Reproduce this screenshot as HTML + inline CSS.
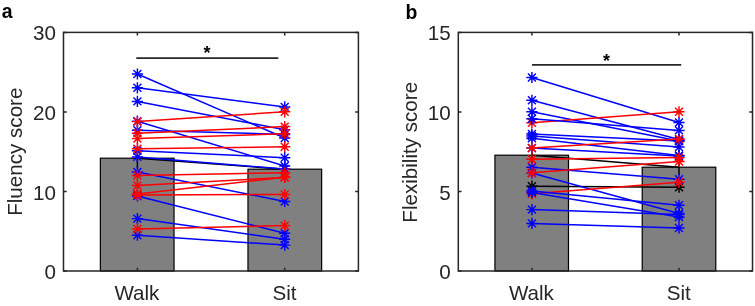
<!DOCTYPE html>
<html><head><meta charset="utf-8"><style>
html,body{margin:0;padding:0;background:#fff;}
body{width:755px;height:306px;overflow:hidden;}
svg{display:block;will-change:transform;}
.t{font-family:"Liberation Sans",sans-serif;font-size:20.6px;fill:#262626;}
.pl{font-family:"Liberation Sans",sans-serif;font-size:19.4px;font-weight:bold;fill:#000;}
.st{font-family:"Liberation Sans",sans-serif;font-size:18px;font-weight:bold;fill:#000;}
</style></head><body>
<svg width="755" height="306" viewBox="0 0 755 306">
<rect width="755" height="306" fill="#fff"/>
<rect x="100.38" y="158.20" width="73.65" height="112.80" fill="#808080" stroke="#000" stroke-width="1.2"/>
<rect x="247.98" y="169.20" width="73.65" height="101.80" fill="#808080" stroke="#000" stroke-width="1.2"/>
<path d="M137.40 147.97V168.43" stroke="#000" stroke-width="1.5"/>
<path d="M284.70 159.68V178.72" stroke="#000" stroke-width="1.5"/>
<path d="M137.40 158.20L284.70 169.20" stroke="#000" stroke-width="1.5"/>
<path d="M137.40 74.00L284.70 138.00" stroke="#0000ff" stroke-width="1.5"/>
<path d="M131.80 74.00H143.00M137.40 68.40V79.60M133.44 70.04L141.36 77.96M133.44 77.96L141.36 70.04" stroke="#0000ff" stroke-width="1.45" fill="none"/>
<path d="M279.10 138.00H290.30M284.70 132.40V143.60M280.74 134.04L288.66 141.96M280.74 141.96L288.66 134.04" stroke="#0000ff" stroke-width="1.45" fill="none"/>
<path d="M137.40 87.80L284.70 106.90" stroke="#0000ff" stroke-width="1.5"/>
<path d="M131.80 87.80H143.00M137.40 82.20V93.40M133.44 83.84L141.36 91.76M133.44 91.76L141.36 83.84" stroke="#0000ff" stroke-width="1.45" fill="none"/>
<path d="M279.10 106.90H290.30M284.70 101.30V112.50M280.74 102.94L288.66 110.86M280.74 110.86L288.66 102.94" stroke="#0000ff" stroke-width="1.45" fill="none"/>
<path d="M137.40 101.40L284.70 129.70" stroke="#0000ff" stroke-width="1.5"/>
<path d="M131.80 101.40H143.00M137.40 95.80V107.00M133.44 97.44L141.36 105.36M133.44 105.36L141.36 97.44" stroke="#0000ff" stroke-width="1.45" fill="none"/>
<path d="M279.10 129.70H290.30M284.70 124.10V135.30M280.74 125.74L288.66 133.66M280.74 133.66L288.66 125.74" stroke="#0000ff" stroke-width="1.45" fill="none"/>
<path d="M137.40 121.20L284.70 166.00" stroke="#0000ff" stroke-width="1.5"/>
<path d="M131.80 121.20H143.00M137.40 115.60V126.80M133.44 117.24L141.36 125.16M133.44 125.16L141.36 117.24" stroke="#0000ff" stroke-width="1.45" fill="none"/>
<path d="M279.10 166.00H290.30M284.70 160.40V171.60M280.74 162.04L288.66 169.96M280.74 169.96L288.66 162.04" stroke="#0000ff" stroke-width="1.45" fill="none"/>
<path d="M137.40 130.30L284.70 134.40" stroke="#0000ff" stroke-width="1.5"/>
<path d="M131.80 130.30H143.00M137.40 124.70V135.90M133.44 126.34L141.36 134.26M133.44 134.26L141.36 126.34" stroke="#0000ff" stroke-width="1.45" fill="none"/>
<path d="M279.10 134.40H290.30M284.70 128.80V140.00M280.74 130.44L288.66 138.36M280.74 138.36L288.66 130.44" stroke="#0000ff" stroke-width="1.45" fill="none"/>
<path d="M137.40 150.80L284.70 157.70" stroke="#0000ff" stroke-width="1.5"/>
<path d="M131.80 150.80H143.00M137.40 145.20V156.40M133.44 146.84L141.36 154.76M133.44 154.76L141.36 146.84" stroke="#0000ff" stroke-width="1.45" fill="none"/>
<path d="M279.10 157.70H290.30M284.70 152.10V163.30M280.74 153.74L288.66 161.66M280.74 161.66L288.66 153.74" stroke="#0000ff" stroke-width="1.45" fill="none"/>
<path d="M137.40 156.90L284.70 169.00" stroke="#0000ff" stroke-width="1.5"/>
<path d="M131.80 156.90H143.00M137.40 151.30V162.50M133.44 152.94L141.36 160.86M133.44 160.86L141.36 152.94" stroke="#0000ff" stroke-width="1.45" fill="none"/>
<path d="M279.10 169.00H290.30M284.70 163.40V174.60M280.74 165.04L288.66 172.96M280.74 172.96L288.66 165.04" stroke="#0000ff" stroke-width="1.45" fill="none"/>
<path d="M137.40 172.00L284.70 201.50" stroke="#0000ff" stroke-width="1.5"/>
<path d="M131.80 172.00H143.00M137.40 166.40V177.60M133.44 168.04L141.36 175.96M133.44 175.96L141.36 168.04" stroke="#0000ff" stroke-width="1.45" fill="none"/>
<path d="M279.10 201.50H290.30M284.70 195.90V207.10M280.74 197.54L288.66 205.46M280.74 205.46L288.66 197.54" stroke="#0000ff" stroke-width="1.45" fill="none"/>
<path d="M137.40 196.00L284.70 233.30" stroke="#0000ff" stroke-width="1.5"/>
<path d="M131.80 196.00H143.00M137.40 190.40V201.60M133.44 192.04L141.36 199.96M133.44 199.96L141.36 192.04" stroke="#0000ff" stroke-width="1.45" fill="none"/>
<path d="M279.10 233.30H290.30M284.70 227.70V238.90M280.74 229.34L288.66 237.26M280.74 237.26L288.66 229.34" stroke="#0000ff" stroke-width="1.45" fill="none"/>
<path d="M137.40 218.60L284.70 239.20" stroke="#0000ff" stroke-width="1.5"/>
<path d="M131.80 218.60H143.00M137.40 213.00V224.20M133.44 214.64L141.36 222.56M133.44 222.56L141.36 214.64" stroke="#0000ff" stroke-width="1.45" fill="none"/>
<path d="M279.10 239.20H290.30M284.70 233.60V244.80M280.74 235.24L288.66 243.16M280.74 243.16L288.66 235.24" stroke="#0000ff" stroke-width="1.45" fill="none"/>
<path d="M137.40 235.20L284.70 245.10" stroke="#0000ff" stroke-width="1.5"/>
<path d="M131.80 235.20H143.00M137.40 229.60V240.80M133.44 231.24L141.36 239.16M133.44 239.16L141.36 231.24" stroke="#0000ff" stroke-width="1.45" fill="none"/>
<path d="M279.10 245.10H290.30M284.70 239.50V250.70M280.74 241.14L288.66 249.06M280.74 249.06L288.66 241.14" stroke="#0000ff" stroke-width="1.45" fill="none"/>
<path d="M137.40 121.60L284.70 111.80" stroke="#ff0000" stroke-width="1.5"/>
<path d="M131.80 121.60H143.00M137.40 116.00V127.20M133.44 117.64L141.36 125.56M133.44 125.56L141.36 117.64" stroke="#ff0000" stroke-width="1.45" fill="none"/>
<path d="M279.10 111.80H290.30M284.70 106.20V117.40M280.74 107.84L288.66 115.76M280.74 115.76L288.66 107.84" stroke="#ff0000" stroke-width="1.45" fill="none"/>
<path d="M137.40 133.30L284.70 126.60" stroke="#ff0000" stroke-width="1.5"/>
<path d="M131.80 133.30H143.00M137.40 127.70V138.90M133.44 129.34L141.36 137.26M133.44 137.26L141.36 129.34" stroke="#ff0000" stroke-width="1.45" fill="none"/>
<path d="M279.10 126.60H290.30M284.70 121.00V132.20M280.74 122.64L288.66 130.56M280.74 130.56L288.66 122.64" stroke="#ff0000" stroke-width="1.45" fill="none"/>
<path d="M137.40 138.60L284.70 133.70" stroke="#ff0000" stroke-width="1.5"/>
<path d="M131.80 138.60H143.00M137.40 133.00V144.20M133.44 134.64L141.36 142.56M133.44 142.56L141.36 134.64" stroke="#ff0000" stroke-width="1.45" fill="none"/>
<path d="M279.10 133.70H290.30M284.70 128.10V139.30M280.74 129.74L288.66 137.66M280.74 137.66L288.66 129.74" stroke="#ff0000" stroke-width="1.45" fill="none"/>
<path d="M137.40 148.80L284.70 146.80" stroke="#ff0000" stroke-width="1.5"/>
<path d="M131.80 148.80H143.00M137.40 143.20V154.40M133.44 144.84L141.36 152.76M133.44 152.76L141.36 144.84" stroke="#ff0000" stroke-width="1.45" fill="none"/>
<path d="M279.10 146.80H290.30M284.70 141.20V152.40M280.74 142.84L288.66 150.76M280.74 150.76L288.66 142.84" stroke="#ff0000" stroke-width="1.45" fill="none"/>
<path d="M137.40 175.50L284.70 172.80" stroke="#ff0000" stroke-width="1.5"/>
<path d="M131.80 175.50H143.00M137.40 169.90V181.10M133.44 171.54L141.36 179.46M133.44 179.46L141.36 171.54" stroke="#ff0000" stroke-width="1.45" fill="none"/>
<path d="M279.10 172.80H290.30M284.70 167.20V178.40M280.74 168.84L288.66 176.76M280.74 176.76L288.66 168.84" stroke="#ff0000" stroke-width="1.45" fill="none"/>
<path d="M137.40 185.50L284.70 177.40" stroke="#ff0000" stroke-width="1.5"/>
<path d="M131.80 185.50H143.00M137.40 179.90V191.10M133.44 181.54L141.36 189.46M133.44 189.46L141.36 181.54" stroke="#ff0000" stroke-width="1.45" fill="none"/>
<path d="M279.10 177.40H290.30M284.70 171.80V183.00M280.74 173.44L288.66 181.36M280.74 181.36L288.66 173.44" stroke="#ff0000" stroke-width="1.45" fill="none"/>
<path d="M137.40 194.00L284.70 177.20" stroke="#ff0000" stroke-width="1.5"/>
<path d="M131.80 194.00H143.00M137.40 188.40V199.60M133.44 190.04L141.36 197.96M133.44 197.96L141.36 190.04" stroke="#ff0000" stroke-width="1.45" fill="none"/>
<path d="M279.10 177.20H290.30M284.70 171.60V182.80M280.74 173.24L288.66 181.16M280.74 181.16L288.66 173.24" stroke="#ff0000" stroke-width="1.45" fill="none"/>
<path d="M137.40 195.00L284.70 194.50" stroke="#ff0000" stroke-width="1.5"/>
<path d="M131.80 195.00H143.00M137.40 189.40V200.60M133.44 191.04L141.36 198.96M133.44 198.96L141.36 191.04" stroke="#ff0000" stroke-width="1.45" fill="none"/>
<path d="M279.10 194.50H290.30M284.70 188.90V200.10M280.74 190.54L288.66 198.46M280.74 198.46L288.66 190.54" stroke="#ff0000" stroke-width="1.45" fill="none"/>
<path d="M137.40 228.90L284.70 225.60" stroke="#ff0000" stroke-width="1.5"/>
<path d="M131.80 228.90H143.00M137.40 223.30V234.50M133.44 224.94L141.36 232.86M133.44 232.86L141.36 224.94" stroke="#ff0000" stroke-width="1.45" fill="none"/>
<path d="M279.10 225.60H290.30M284.70 220.00V231.20M280.74 221.64L288.66 229.56M280.74 229.56L288.66 221.64" stroke="#ff0000" stroke-width="1.45" fill="none"/>
<rect x="63.5" y="32.4" width="294.90" height="238.60" fill="none" stroke="#262626" stroke-width="1.5"/>
<path d="M63.5 271.00h3.2M358.4 271.00h-3.2M63.5 191.47h3.2M358.4 191.47h-3.2M63.5 111.93h3.2M358.4 111.93h-3.2M63.5 32.40h3.2M358.4 32.40h-3.2M137.40 271.0v-3.2M137.40 32.4v3.2M284.70 271.0v-3.2M284.70 32.4v3.2" stroke="#262626" stroke-width="1.5"/>
<text x="55.90" y="279.20" text-anchor="end" class="t">0</text>
<text x="55.90" y="199.60" text-anchor="end" class="t">10</text>
<text x="55.90" y="119.60" text-anchor="end" class="t">20</text>
<text x="55.90" y="39.60" text-anchor="end" class="t">30</text>
<text x="136.90" y="300.2" text-anchor="middle" class="t">Walk</text>
<text x="284.50" y="300.2" text-anchor="middle" class="t">Sit</text>
<text transform="translate(22.30 151.70) rotate(-90)" text-anchor="middle" class="t">Fluency score</text>
<path d="M136.3 58.1H278.3" stroke="#262626" stroke-width="1.6"/>
<text x="206.9" y="59.30" text-anchor="middle" class="st">*</text>
<text x="1.8" y="18.4" class="pl">a</text>
<rect x="494.93" y="155.20" width="73.55" height="115.80" fill="#808080" stroke="#000" stroke-width="1.2"/>
<rect x="642.23" y="167.20" width="73.55" height="103.80" fill="#808080" stroke="#000" stroke-width="1.2"/>
<path d="M531.90 146.61V163.79" stroke="#000" stroke-width="1.5"/>
<path d="M679.00 159.43V174.97" stroke="#000" stroke-width="1.5"/>
<path d="M531.90 155.20L679.00 167.20" stroke="#000" stroke-width="1.5"/>
<path d="M531.90 186.20L679.00 187.20" stroke="#000000" stroke-width="1.5"/>
<path d="M526.30 186.20H537.50M531.90 180.60V191.80M527.94 182.24L535.86 190.16M527.94 190.16L535.86 182.24" stroke="#000000" stroke-width="1.45" fill="none"/>
<path d="M673.40 187.20H684.60M679.00 181.60V192.80M675.04 183.24L682.96 191.16M675.04 191.16L682.96 183.24" stroke="#000000" stroke-width="1.45" fill="none"/>
<path d="M531.90 77.50L679.00 122.50" stroke="#0000ff" stroke-width="1.5"/>
<path d="M526.30 77.50H537.50M531.90 71.90V83.10M527.94 73.54L535.86 81.46M527.94 81.46L535.86 73.54" stroke="#0000ff" stroke-width="1.45" fill="none"/>
<path d="M673.40 122.50H684.60M679.00 116.90V128.10M675.04 118.54L682.96 126.46M675.04 126.46L682.96 118.54" stroke="#0000ff" stroke-width="1.45" fill="none"/>
<path d="M531.90 100.30L679.00 139.50" stroke="#0000ff" stroke-width="1.5"/>
<path d="M526.30 100.30H537.50M531.90 94.70V105.90M527.94 96.34L535.86 104.26M527.94 104.26L535.86 96.34" stroke="#0000ff" stroke-width="1.45" fill="none"/>
<path d="M673.40 139.50H684.60M679.00 133.90V145.10M675.04 135.54L682.96 143.46M675.04 143.46L682.96 135.54" stroke="#0000ff" stroke-width="1.45" fill="none"/>
<path d="M531.90 111.80L679.00 141.00" stroke="#0000ff" stroke-width="1.5"/>
<path d="M526.30 111.80H537.50M531.90 106.20V117.40M527.94 107.84L535.86 115.76M527.94 115.76L535.86 107.84" stroke="#0000ff" stroke-width="1.45" fill="none"/>
<path d="M673.40 141.00H684.60M679.00 135.40V146.60M675.04 137.04L682.96 144.96M675.04 144.96L682.96 137.04" stroke="#0000ff" stroke-width="1.45" fill="none"/>
<path d="M531.90 134.00L679.00 141.00" stroke="#0000ff" stroke-width="1.5"/>
<path d="M526.30 134.00H537.50M531.90 128.40V139.60M527.94 130.04L535.86 137.96M527.94 137.96L535.86 130.04" stroke="#0000ff" stroke-width="1.45" fill="none"/>
<path d="M673.40 141.00H684.60M679.00 135.40V146.60M675.04 137.04L682.96 144.96M675.04 144.96L682.96 137.04" stroke="#0000ff" stroke-width="1.45" fill="none"/>
<path d="M531.90 136.00L679.00 147.00" stroke="#0000ff" stroke-width="1.5"/>
<path d="M526.30 136.00H537.50M531.90 130.40V141.60M527.94 132.04L535.86 139.96M527.94 139.96L535.86 132.04" stroke="#0000ff" stroke-width="1.45" fill="none"/>
<path d="M673.40 147.00H684.60M679.00 141.40V152.60M675.04 143.04L682.96 150.96M675.04 150.96L682.96 143.04" stroke="#0000ff" stroke-width="1.45" fill="none"/>
<path d="M531.90 138.30L679.00 155.40" stroke="#0000ff" stroke-width="1.5"/>
<path d="M526.30 138.30H537.50M531.90 132.70V143.90M527.94 134.34L535.86 142.26M527.94 142.26L535.86 134.34" stroke="#0000ff" stroke-width="1.45" fill="none"/>
<path d="M673.40 155.40H684.60M679.00 149.80V161.00M675.04 151.44L682.96 159.36M675.04 159.36L682.96 151.44" stroke="#0000ff" stroke-width="1.45" fill="none"/>
<path d="M531.90 148.00L679.00 156.00" stroke="#0000ff" stroke-width="1.5"/>
<path d="M526.30 148.00H537.50M531.90 142.40V153.60M527.94 144.04L535.86 151.96M527.94 151.96L535.86 144.04" stroke="#0000ff" stroke-width="1.45" fill="none"/>
<path d="M673.40 156.00H684.60M679.00 150.40V161.60M675.04 152.04L682.96 159.96M675.04 159.96L682.96 152.04" stroke="#0000ff" stroke-width="1.45" fill="none"/>
<path d="M531.90 167.20L679.00 179.30" stroke="#0000ff" stroke-width="1.5"/>
<path d="M526.30 167.20H537.50M531.90 161.60V172.80M527.94 163.24L535.86 171.16M527.94 171.16L535.86 163.24" stroke="#0000ff" stroke-width="1.45" fill="none"/>
<path d="M673.40 179.30H684.60M679.00 173.70V184.90M675.04 175.34L682.96 183.26M675.04 183.26L682.96 175.34" stroke="#0000ff" stroke-width="1.45" fill="none"/>
<path d="M531.90 173.00L679.00 213.50" stroke="#0000ff" stroke-width="1.5"/>
<path d="M526.30 173.00H537.50M531.90 167.40V178.60M527.94 169.04L535.86 176.96M527.94 176.96L535.86 169.04" stroke="#0000ff" stroke-width="1.45" fill="none"/>
<path d="M673.40 213.50H684.60M679.00 207.90V219.10M675.04 209.54L682.96 217.46M675.04 217.46L682.96 209.54" stroke="#0000ff" stroke-width="1.45" fill="none"/>
<path d="M531.90 209.60L679.00 214.50" stroke="#0000ff" stroke-width="1.5"/>
<path d="M526.30 209.60H537.50M531.90 204.00V215.20M527.94 205.64L535.86 213.56M527.94 213.56L535.86 205.64" stroke="#0000ff" stroke-width="1.45" fill="none"/>
<path d="M673.40 214.50H684.60M679.00 208.90V220.10M675.04 210.54L682.96 218.46M675.04 218.46L682.96 210.54" stroke="#0000ff" stroke-width="1.45" fill="none"/>
<path d="M531.90 223.40L679.00 228.00" stroke="#0000ff" stroke-width="1.5"/>
<path d="M526.30 223.40H537.50M531.90 217.80V229.00M527.94 219.44L535.86 227.36M527.94 227.36L535.86 219.44" stroke="#0000ff" stroke-width="1.45" fill="none"/>
<path d="M673.40 228.00H684.60M679.00 222.40V233.60M675.04 224.04L682.96 231.96M675.04 231.96L682.96 224.04" stroke="#0000ff" stroke-width="1.45" fill="none"/>
<path d="M531.90 122.70L679.00 111.80" stroke="#ff0000" stroke-width="1.5"/>
<path d="M526.30 122.70H537.50M531.90 117.10V128.30M527.94 118.74L535.86 126.66M527.94 126.66L535.86 118.74" stroke="#ff0000" stroke-width="1.45" fill="none"/>
<path d="M673.40 111.80H684.60M679.00 106.20V117.40M675.04 107.84L682.96 115.76M675.04 115.76L682.96 107.84" stroke="#ff0000" stroke-width="1.45" fill="none"/>
<path d="M531.90 148.10L679.00 139.00" stroke="#ff0000" stroke-width="1.5"/>
<path d="M526.30 148.10H537.50M531.90 142.50V153.70M527.94 144.14L535.86 152.06M527.94 152.06L535.86 144.14" stroke="#ff0000" stroke-width="1.45" fill="none"/>
<path d="M673.40 139.00H684.60M679.00 133.40V144.60M675.04 135.04L682.96 142.96M675.04 142.96L682.96 135.04" stroke="#ff0000" stroke-width="1.45" fill="none"/>
<path d="M531.90 159.30L679.00 157.60" stroke="#ff0000" stroke-width="1.5"/>
<path d="M526.30 159.30H537.50M531.90 153.70V164.90M527.94 155.34L535.86 163.26M527.94 163.26L535.86 155.34" stroke="#ff0000" stroke-width="1.45" fill="none"/>
<path d="M673.40 157.60H684.60M679.00 152.00V163.20M675.04 153.64L682.96 161.56M675.04 161.56L682.96 153.64" stroke="#ff0000" stroke-width="1.45" fill="none"/>
<path d="M531.90 172.70L679.00 161.50" stroke="#ff0000" stroke-width="1.5"/>
<path d="M526.30 172.70H537.50M531.90 167.10V178.30M527.94 168.74L535.86 176.66M527.94 176.66L535.86 168.74" stroke="#ff0000" stroke-width="1.45" fill="none"/>
<path d="M673.40 161.50H684.60M679.00 155.90V167.10M675.04 157.54L682.96 165.46M675.04 165.46L682.96 157.54" stroke="#ff0000" stroke-width="1.45" fill="none"/>
<path d="M531.90 193.80L679.00 182.30" stroke="#ff0000" stroke-width="1.5"/>
<path d="M526.30 193.80H537.50M531.90 188.20V199.40M527.94 189.84L535.86 197.76M527.94 197.76L535.86 189.84" stroke="#ff0000" stroke-width="1.45" fill="none"/>
<path d="M673.40 182.30H684.60M679.00 176.70V187.90M675.04 178.34L682.96 186.26M675.04 186.26L682.96 178.34" stroke="#ff0000" stroke-width="1.45" fill="none"/>
<path d="M531.90 191.00L679.00 205.30" stroke="#0000ff" stroke-width="1.5"/>
<path d="M526.30 191.00H537.50M531.90 185.40V196.60M527.94 187.04L535.86 194.96M527.94 194.96L535.86 187.04" stroke="#0000ff" stroke-width="1.45" fill="none"/>
<path d="M673.40 205.30H684.60M679.00 199.70V210.90M675.04 201.34L682.96 209.26M675.04 209.26L682.96 201.34" stroke="#0000ff" stroke-width="1.45" fill="none"/>
<path d="M531.90 192.50L679.00 217.00" stroke="#0000ff" stroke-width="1.5"/>
<path d="M526.30 192.50H537.50M531.90 186.90V198.10M527.94 188.54L535.86 196.46M527.94 196.46L535.86 188.54" stroke="#0000ff" stroke-width="1.45" fill="none"/>
<path d="M673.40 217.00H684.60M679.00 211.40V222.60M675.04 213.04L682.96 220.96M675.04 220.96L682.96 213.04" stroke="#0000ff" stroke-width="1.45" fill="none"/>
<path d="M531.90 118.80L679.00 130.40" stroke="#0000ff" stroke-width="1.5"/>
<path d="M526.30 118.80H537.50M531.90 113.20V124.40M527.94 114.84L535.86 122.76M527.94 122.76L535.86 114.84" stroke="#0000ff" stroke-width="1.45" fill="none"/>
<path d="M673.40 130.40H684.60M679.00 124.80V136.00M675.04 126.44L682.96 134.36M675.04 134.36L682.96 126.44" stroke="#0000ff" stroke-width="1.45" fill="none"/>
<rect x="458.3" y="32.4" width="294.20" height="238.60" fill="none" stroke="#262626" stroke-width="1.5"/>
<path d="M458.3 271.00h3.2M752.5 271.00h-3.2M458.3 191.47h3.2M752.5 191.47h-3.2M458.3 111.93h3.2M752.5 111.93h-3.2M458.3 32.40h3.2M752.5 32.40h-3.2M531.90 271.0v-3.2M531.90 32.4v3.2M679.00 271.0v-3.2M679.00 32.4v3.2" stroke="#262626" stroke-width="1.5"/>
<text x="450.70" y="279.20" text-anchor="end" class="t">0</text>
<text x="450.70" y="199.60" text-anchor="end" class="t">5</text>
<text x="450.70" y="119.60" text-anchor="end" class="t">10</text>
<text x="450.70" y="39.60" text-anchor="end" class="t">15</text>
<text x="531.40" y="300.2" text-anchor="middle" class="t">Walk</text>
<text x="678.80" y="300.2" text-anchor="middle" class="t">Sit</text>
<text transform="translate(417.10 152.30) rotate(-90)" text-anchor="middle" class="t">Flexibility score</text>
<path d="M532.0 64.9H681.2" stroke="#262626" stroke-width="1.6"/>
<text x="606.6" y="67.00" text-anchor="middle" class="st">*</text>
<text x="405.5" y="18.6" class="pl">b</text>
</svg>
</body></html>
